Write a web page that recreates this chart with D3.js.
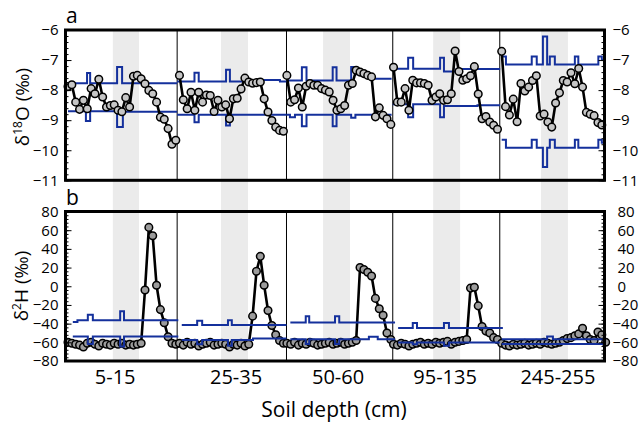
<!DOCTYPE html>
<html>
<head>
<meta charset="utf-8">
<script src="https://cdn.jsdelivr.net/npm/d3@7"></script>
<style>
  body { margin: 0; background: #fff; }
  text { font-family: "Open Sans", sans-serif; }
</style>
</head>
<body>
<div id="chart"></div>
<script>
// Soil water isotopes, two panels (d18O, d2H) over five sampled depths

// x is sample number along the record
var depthLabels = ["5-15", "25-35", "50-60", "95-135", "245-255"];
var labelPos = [12.9, 44.3, 70.8, 98.6, 127.9];
var sectionStart = [0.65, 29.6, 57.5, 85.2, 113.3];
var sectionEdges = [29, 57.4, 85, 112.8];
var bandStart = [12.3, 40.4, 66.9, 95.5, 123.5];
var bandEnd = [19.1, 47.4, 73.9, 102.5, 130.5];

var d18OTicks = [-6, -7, -8, -9, -10, -11];
var d2HTicks = [80, 60, 40, 20, 0, -20, -40, -60, -80];

// d18O of soil water, one list per depth
var d18O = [
    [-7.88, -7.82, -8.40, -8.64, -8.34, -8.62, -7.95, -8.12, -7.64, -8.23, -8.56, -8.51, -8.49, -8.67, -8.72,
     -8.25, -8.56, -7.54, -7.51, -7.62, -7.79, -8.01, -8.12, -8.40, -8.90, -8.97, -9.28, -9.80, -9.67],
    [-7.51, -8.32, -8.62, -8.07, -8.67, -8.07, -8.40, -8.16, -8.18, -8.71, -8.34, -8.56, -8.49, -8.95,
     -8.29, -8.27, -7.96, -7.60, -7.73, -7.77, -7.75, -7.73, -8.29, -8.73, -9.01, -9.23, -9.34, -9.37],
    [-7.51, -8.40, -8.32, -7.93, -8.56, -7.87, -7.78, -7.84, -7.84, -7.95, -8.00, -8.06, -8.34, -8.67,
     -8.62, -8.51, -7.84, -7.78, -7.34, -7.40, -7.45, -7.51, -7.56, -8.89, -8.59, -8.84, -8.95, -9.14],
    [-7.24, -8.40, -8.40, -7.95, -8.67, -7.67, -7.76, -7.76, -7.78, -7.84, -8.34, -8.23, -8.12, -8.34,
     -8.32, -8.12, -6.70, -7.38, -7.67, -7.62, -7.52, -7.22, -8.13, -8.95, -8.88, -9.06, -9.17, -9.30],
    [-6.71, -8.55, -8.83, -8.30, -9.05, -7.78, -8.03, -7.90, -7.68, -7.52, -8.86, -8.80, -9.06, -9.23,
     -8.43, -8.09, -7.68, -7.73, -7.42, -7.79, -7.28, -7.90, -8.74, -8.80, -8.85, -9.08, -9.16]
];

// d2H of soil water, one list per depth
var d2H = [
    [-60, -61, -62, -63, -65, -61, -60, -62, -64, -61, -62, -63, -61, -62, -61, -63, -62, -63, -62, -61,
     -4, 63, 54, 1, -25, -39, -54, -61, -62],
    [-61, -63, -60, -62, -61, -64, -62, -61, -60, -63, -62, -61, -62, -65, -62, -63, -61, -64, -62,
     -32, 16, 32, 1, -26, -42, -52, -58, -61],
    [-61, -62, -60, -63, -61, -62, -60, -61, -63, -62, -61, -60, -62, -61, -60, -62, -61, -60, -58,
     20, 18, 15, 11, -13, -24, -31, -50, -57],
    [-62, -63, -61, -62, -64, -62, -61, -60, -62, -61, -62, -60, -61, -60, -59, -62, -60, -59, -58, -57,
     -2, -1, -21, -43, -48, -50, -55, -57],
    [-61, -63, -64, -62, -63, -62, -61, -63, -62, -61, -62, -60, -61, -62, -61, -60,
     -58, -56, -55, -53, -51, -45, -53, -57, -58, -49, -52, -60]
];

// input water range (upper / lower), steps as [sample, value]
var d18OUpper = [
    [[0.65, -7.77], [5.6, -7.43], [6.4, -7.77], [13.4, -7.23], [14.7, -7.77], [29.0, -7.77]],
    [[29.0, -7.71], [33.5, -7.42], [34.6, -7.71], [41.7, -7.32], [42.7, -7.71], [46.1, -7.66], [55.7, -7.71], [57.4, -7.71]],
    [[57.4, -7.68], [61.4, -7.24], [62.6, -7.68], [69.4, -7.24], [70.4, -7.68], [74.2, -7.23], [75.3, -7.47], [79.2, -7.62], [84.7, -7.62]],
    [[85.0, -7.29], [89.0, -6.92], [90.3, -7.29], [97.3, -6.92], [98.3, -7.38], [101.6, -7.30], [112.9, -7.30]],
    [[113.3, -6.88], [114.4, -7.15], [121.1, -6.88], [122.4, -7.15], [124.0, -6.22], [125.1, -7.15], [125.8, -6.88],
     [127.1, -7.15], [132.3, -6.88], [133.2, -7.15], [138.4, -6.88], [139.3, -7.0], [140, -7.0]]
];
var d18OLower = [
    [[0.65, -8.70], [5.3, -9.03], [6.4, -8.70], [13.4, -9.23], [14.9, -8.72], [29.0, -8.72]],
    [[29.0, -8.82], [33.5, -9.07], [34.6, -8.82], [41.7, -9.18], [42.7, -8.82], [57.4, -8.82]],
    [[57.4, -8.82], [58.3, -8.90], [59.6, -8.82], [61.4, -9.20], [62.6, -8.82], [69.4, -9.20], [70.4, -8.82],
     [74.2, -8.92], [75.3, -8.82], [84.7, -8.82]],
    [[85.0, -8.47], [89.0, -8.90], [90.3, -8.47], [97.3, -8.90], [98.3, -8.53], [107.0, -8.50], [112.9, -8.50]],
    [[113.3, -9.65], [114.4, -9.92], [121.1, -9.65], [122.4, -9.92], [124.0, -10.56], [125.1, -9.92], [125.8, -9.65],
     [127.1, -9.92], [132.3, -9.65], [133.2, -9.92], [138.4, -9.65], [139.3, -9.75], [140, -9.75]]
];
var d2HUpper = [
    [[1.9, -38.2], [3.1, -36.5], [5.8, -30.4], [7.1, -36.5], [14.2, -26.8], [15.2, -36.5], [29.3, -36.5]],
    [[30.2, -41.5], [34.2, -37], [35.5, -41.5], [42.2, -36.5], [43.2, -41.5], [57.4, -41.5]],
    [[58.4, -38.7], [62.4, -32.2], [63.3, -38.7], [70.0, -32.2], [71.1, -38.7], [85.6, -38.7]],
    [[86.4, -44.8], [90.2, -39.4], [91.3, -44.8], [98.3, -39.4], [99.6, -44.8], [113.6, -44.8]],
    [[113.3, -56.6], [125.1, -53.8], [126.6, -56.6], [140, -56.6]]
];
var d2HLower = [
    [[1.9, -53.8], [5.8, -61.7], [7.1, -53.8], [14.2, -64.5], [15.2, -53.8], [29.3, -53.8]],
    [[30.2, -57.5], [34.2, -62], [35.5, -57.5], [42.2, -63.6], [43.2, -57.5], [48.7, -56], [57.4, -56]],
    [[58.4, -56.6], [62.4, -61.7], [63.3, -56.6], [70.0, -61.7], [71.1, -56.6], [78.8, -54], [81.1, -56.6], [85.6, -56.6]],
    [[86.4, -60.2], [90.2, -62], [91.3, -60.2], [98.3, -63.8], [99.6, -60.2], [112.8, -60.2]],
    [[113.3, -61.7], [140, -61.7]]
];

var svg = null;
var x = null, yO = null, yH = null;
var blue = "#14309c";

function initialize() {
    svg = d3.select("#chart")
        .append("svg")
        .attr("width", 641)
        .attr("height", 423);

    x = d3.scaleLinear().domain([0, 140]).range([65.5, 604.5]);
    yO = d3.scaleLinear().domain([-11, -6]).range([180.3, 30]);
    yH = d3.scaleLinear().domain([-80, 80]).range([361, 211.5]);
};

function buildBackground() {
    // grey shading across both panels
    svg.append("g")
        .selectAll("rect")
        .data(bandStart)
        .enter()
        .append("rect")
        .attr("x", d => x(d))
        .attr("width", (d, i) => x(bandEnd[i]) - x(d))
        .attr("y", yO(-6))
        .attr("height", yH(-80) - yO(-6))
        .attr("fill", "#ebebeb");

    // thin lines between depths
    [yO, yH].forEach(function (y) {
        svg.append("g")
            .selectAll("line")
            .data(sectionEdges)
            .enter()
            .append("line")
            .attr("x1", d => x(d)).attr("x2", d => x(d))
            .attr("y1", y.range()[1]).attr("y2", y.range()[0])
            .attr("stroke", "#000")
            .attr("stroke-width", 1);
    });
};

function drawSteps(y, data) {
    let step = d3.line()
        .x(d => x(d[0]))
        .y(d => y(d[1]))
        .curve(d3.curveStepAfter);

    svg.append("g")
        .selectAll("path")
        .data(data)
        .enter()
        .append("path")
        .attr("d", step)
        .attr("fill", "none")
        .attr("stroke", blue)
        .attr("stroke-width", 2);
};

function drawSeries(y, data, fill) {
    let line = d3.line()
        .x(d => x(d[0]))
        .y(d => y(d[1]));

    data.forEach(function (vals, s) {
        let pts = vals.map((v, i) => [sectionStart[s] + i, v]);
        let g = svg.append("g");
        g.append("path")
            .datum(pts)
            .attr("d", line)
            .attr("fill", "none")
            .attr("stroke", "#000")
            .attr("stroke-width", 2.6)
            .attr("stroke-linejoin", "round");
        g.selectAll("circle")
            .data(pts)
            .enter()
            .append("circle")
            .attr("cx", d => x(d[0]))
            .attr("cy", d => y(d[1]))
            .attr("r", 3.8)
            .attr("fill", fill)
            .attr("stroke", "#000")
            .attr("stroke-width", 1.5);
    });
};

function buildAxes(y, ticks, minorStep) {
    let minor = d3.range(y.domain()[0], y.domain()[1] + 1e-9, minorStep);
    let x0 = x.range()[0], x1 = x.range()[1];
    let fmt = d3.format("d");

    // minor ticks, both sides, pointing inside
    svg.append("g")
        .attr("transform", "translate(" + x0 + ",0)")
        .call(d3.axisLeft(y).tickValues(minor).tickSize(-3).tickFormat(""));
    svg.append("g")
        .attr("transform", "translate(" + x1 + ",0)")
        .call(d3.axisRight(y).tickValues(minor).tickSize(-3).tickFormat(""));

    let left = svg.append("g")
        .attr("transform", "translate(" + x0 + ",0)")
        .style("font-size", "15px")
        .call(d3.axisLeft(y).tickValues(ticks).tickFormat(fmt).tickSize(-6).tickPadding(7));
    let right = svg.append("g")
        .attr("transform", "translate(" + x1 + ",0)")
        .style("font-size", "15px")
        .call(d3.axisRight(y).tickValues(ticks).tickFormat(fmt).tickSize(-6).tickPadding(8));

    svg.selectAll(".domain").remove();
    svg.selectAll(".tick line").attr("stroke", "#000");
    left.selectAll("text").attr("fill", "#000").style("font-family", "Open Sans");
    right.selectAll("text").attr("fill", "#000").style("font-family", "Open Sans");
    return right;
};

function buildFrames() {
    [yO, yH].forEach(function (y) {
        svg.append("rect")
            .attr("x", x.range()[0])
            .attr("y", y.range()[1])
            .attr("width", x.range()[1] - x.range()[0])
            .attr("height", y.range()[0] - y.range()[1])
            .attr("fill", "none")
            .attr("stroke", "#000")
            .attr("stroke-width", 3);
    });
};

function buildLabeling() {
    // depth labels under the lower panel
    svg.append("g")
        .selectAll("text")
        .data(depthLabels)
        .enter()
        .append("text")
        .attr("x", (d, i) => x(labelPos[i]))
        .attr("y", 384)
        .attr("text-anchor", "middle")
        .attr("font-size", "20px")
        .text(d => d);

    svg.append("text")
        .attr("x", 334)
        .attr("y", 417)
        .attr("text-anchor", "middle")
        .attr("font-size", "21px")
        .text("Soil depth (cm)");

    let t1 = svg.append("text")
        .attr("transform", "translate(29," + 107 + ") rotate(-90)")
        .attr("text-anchor", "middle")
        .attr("font-size", "19px");
    t1.append("tspan").text("δ");
    t1.append("tspan").attr("font-size", "12px").attr("dy", "-7").text("18");
    t1.append("tspan").attr("dy", "7").text("O (‰)");

    let t2 = svg.append("text")
        .attr("transform", "translate(28," + 286 + ") rotate(-90)")
        .attr("text-anchor", "middle")
        .attr("font-size", "19px");
    t2.append("tspan").text("δ");
    t2.append("tspan").attr("font-size", "12px").attr("dy", "-7").text("2");
    t2.append("tspan").attr("dy", "7").text("H (‰)");

    svg.append("text").attr("x", 66).attr("y", 23).attr("font-size", "21px").text("a");
    svg.append("text").attr("x", 66).attr("y", 205).attr("font-size", "21px").text("b");
};

initialize();
buildBackground();
drawSteps(yO, d18OUpper);
drawSteps(yO, d18OLower);
drawSeries(yO, d18O, "#c6c6c6");
drawSeries(yH, d2H, "#9c9c9c");
drawSteps(yH, d2HUpper);
drawSteps(yH, d2HLower);
buildAxes(yO, d18OTicks, 0.2);
let rightH = buildAxes(yH, d2HTicks, 4);
rightH.selectAll("text").attr("dx", d => d >= 0 ? 5 : 0);
buildFrames();
buildLabeling();
</script>
</body>
</html>
